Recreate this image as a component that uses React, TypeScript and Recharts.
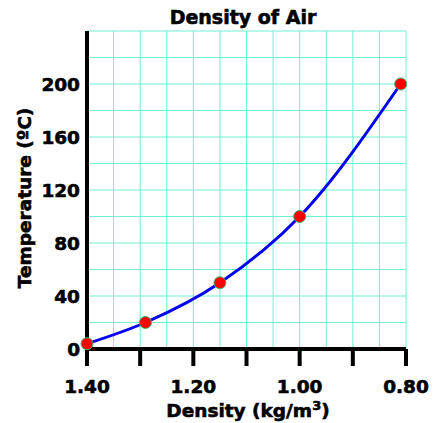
import React from 'react';
import { LineChart, Line, XAxis, YAxis, CartesianGrid } from 'recharts';

const densities = [1.4, 1.29, 1.15, 1.0, 0.81];
const temperatures = [4, 20, 50, 100, 200];

const xTicks = [1.4, 1.3, 1.2, 1.1, 1.0, 0.9, 0.8];
const xLabelled = [1.4, 1.2, 1.0, 0.8];
const yTicks = [0, 40, 80, 120, 160, 200];
const xGrid = [0.8, 0.85, 0.9, 0.95, 1.0, 1.05, 1.1, 1.15, 1.2, 1.25, 1.3, 1.35, 1.4];
const yGrid = [0, 20, 40, 60, 80, 100, 120, 140, 160, 180, 200, 220, 240];

const data = densities.map((d, i) => ({ density: d, temp: temperatures[i] }));

const FONT = '"DejaVu Sans", sans-serif';

const tickStyle = {
  fill: '#000',
  stroke: '#000',
  strokeWidth: 0.6,
  fontSize: 18.5,
  fontWeight: 'bold',
  fontFamily: FONT,
};

const titleStyle: React.CSSProperties = {
  position: 'absolute',
  textAlign: 'center',
  fontWeight: 'bold',
  lineHeight: '22px',
  WebkitTextStroke: '0.6px #000',
};

const gridLine = { shapeRendering: 'crispEdges' } as any;

const App: React.FC = () => {
  const fmtX = (v: number) =>
    xLabelled.some((l) => Math.abs(l - v) < 1e-6) ? v.toFixed(2) : '';

  return (
    <div style={{ position: 'absolute', left: 0, top: 0, width: 443, height: 423, fontFamily: FONT }}>
      <div style={{ ...titleStyle, left: 93, width: 300, top: 6, fontSize: 19 }}>
        Density of Air
      </div>
      <LineChart
        width={443}
        height={423}
        data={data}
        margin={{ top: 31, right: 37, bottom: 44, left: 37 }}
      >
        <CartesianGrid
          stroke="#6ef0d2"
          strokeWidth={1}
          horizontal={gridLine}
          vertical={gridLine}
          verticalValues={xGrid}
          horizontalValues={yGrid}
        />
        <XAxis
          type="number"
          dataKey="density"
          domain={[0.8, 1.4]}
          reversed
          ticks={xTicks}
          interval={0}
          tickFormatter={fmtX}
          height={30}
          tickSize={17}
          tickMargin={14}
          axisLine={{ stroke: '#000', strokeWidth: 4 }}
          tickLine={{ stroke: '#000', strokeWidth: 4 }}
          tick={tickStyle}
        />
        <YAxis
          type="number"
          dataKey="temp"
          domain={[0, 240]}
          ticks={yTicks}
          interval={0}
          width={50}
          tickSize={0}
          tickMargin={7}
          tickLine={false}
          axisLine={{ stroke: '#000', strokeWidth: 4 }}
          tick={tickStyle}
        />
        <Line
          dataKey="temp"
          stroke="none"
          isAnimationActive={false}
          dot={{ r: 6, fill: '#ff0000', stroke: '#3cb371', strokeWidth: 1 }}
          activeDot={false}
        />
        <Line
          type="monotone"
          dataKey="temp"
          stroke="#0000ee"
          strokeWidth={3}
          dot={false}
          activeDot={false}
          isAnimationActive={false}
        />
      </LineChart>
      <div style={{ ...titleStyle, left: 98, width: 300, top: 400, fontSize: 18.5 }}>
        Density (kg/m<sup style={{ fontSize: 13, lineHeight: 0 }}>3</sup>)
      </div>
      <div
        style={{
          ...titleStyle,
          left: 25 - 150,
          top: 198 - 11,
          width: 300,
          fontSize: 18.5,
          transform: 'rotate(-90deg)',
        }}
      >
        Temperature (ºC)
      </div>
    </div>
  );
};

export default App;
